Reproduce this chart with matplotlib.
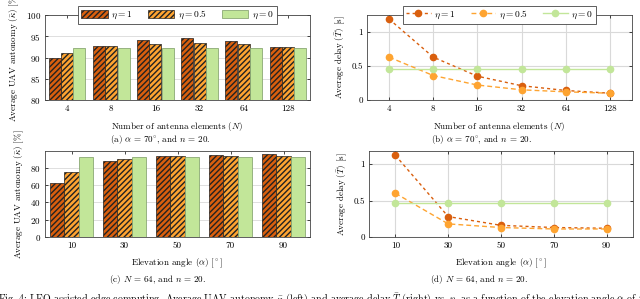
import matplotlib
matplotlib.use("Agg")
import matplotlib.pyplot as plt
import numpy as np

plt.rcParams['font.family'] = 'serif'
plt.rcParams['font.serif'] = ['cmr10']
plt.rcParams['mathtext.fontset'] = 'cm'
plt.rcParams['axes.formatter.use_mathtext'] = True
plt.rcParams['font.size'] = 6.5
plt.rcParams['hatch.linewidth'] = 1.0

# data
n_labels = ['4', '8', '16', '32', '64', '128']
alpha_labels = ['10', '30', '50', '70', '90']

aut_N_eta1 = [90.0, 92.8, 94.2, 94.5, 94.0, 92.5]
aut_N_eta05 = [91.1, 92.6, 93.2, 93.4, 93.1, 92.4]
aut_N_eta0 = [92.2, 92.2, 92.2, 92.2, 92.2, 92.2]

delay_N_eta1 = [1.19, 0.63, 0.35, 0.21, 0.14, 0.10]
delay_N_eta05 = [0.63, 0.36, 0.22, 0.15, 0.12, 0.10]
delay_N_eta0 = [0.46, 0.46, 0.46, 0.46, 0.46, 0.46]

aut_a_eta1 = [62.5, 88.0, 93.0, 94.5, 95.0]
aut_a_eta05 = [75.0, 90.0, 93.0, 93.5, 93.5]
aut_a_eta0 = [92.2, 92.2, 92.2, 92.2, 92.2]

delay_a_eta1 = [1.12, 0.28, 0.16, 0.13, 0.12]
delay_a_eta05 = [0.60, 0.18, 0.13, 0.11, 0.11]
delay_a_eta0 = [0.46, 0.46, 0.46, 0.46, 0.46]

c1 = '#d95f0e'
c05 = '#fea431'
c0 = '#c2e699'
labels = [r'$\eta = 1$', r'$\eta = 0.5$', r'$\eta = 0$']

W, H = 640, 299
fig = plt.figure(figsize=(W / 100, H / 100), dpi=100)


def px_axes(left, right, top, bottom):
    return fig.add_axes([left / W, (H - bottom) / H, (right - left) / W, (bottom - top) / H])


def style(ax):
    ax.tick_params(direction='in', length=2.5, width=0.5, top=True, right=True, pad=3)
    for s in ax.spines.values():
        s.set_linewidth(0.6)
        s.set_color('#444444')
    ax.set_axisbelow(True)


def bars(ax, cats, s1, s05, s0, ylim, yticks, ylabel, xlabel):
    x = np.arange(len(cats))
    w = 0.27
    ax.bar(x - 0.28, s1, w, color=c1, edgecolor='#222222', hatch='//////', linewidth=0.5, label=labels[0])
    ax.bar(x, s05, w, color=c05, edgecolor='#222222', hatch='//////', linewidth=0.5, label=labels[1])
    ax.bar(x + 0.28, s0, w, color=c0, edgecolor='#8aa874', linewidth=0.6, label=labels[2])
    ax.set_xlim(-0.5, len(cats) - 0.5)
    ax.set_ylim(*ylim)
    ax.set_yticks(yticks)
    ax.set_xticks(x)
    ax.set_xticklabels(cats)
    ax.yaxis.grid(True, color='#d9d9d9', linewidth=0.6)
    ax.set_ylabel(ylabel, labelpad=3)
    ax.set_xlabel(xlabel, labelpad=5)
    style(ax)


def lines(ax, cats, s1, s05, s0, ylim, yticks, ylabel, xlabel):
    x = np.arange(len(cats))
    ax.plot(x, s1, color=c1, ls=(0, (2.2, 2.2)), lw=1.0, marker='o', ms=4.5, label=labels[0])
    ax.plot(x, s05, color=c05, ls=(0, (3.5, 2.2)), lw=1.0, marker='o', ms=4.5, label=labels[1])
    ax.plot(x, s0, color=c0, ls='-', lw=1.0, marker='o', ms=4.5, label=labels[2])
    ax.set_xlim(-0.5, len(cats) - 0.5)
    ax.set_ylim(*ylim)
    ax.set_yticks(yticks)
    ax.set_yticklabels([('%g' % v) for v in yticks])
    ax.set_xticks(x)
    ax.set_xticklabels(cats)
    ax.grid(True, color='#d9d9d9', linewidth=0.8)
    ax.set_ylabel(ylabel, labelpad=3)
    ax.set_xlabel(xlabel, labelpad=5)
    style(ax)


def legend(ax, handlelength, colspace):
    leg = ax.legend(loc='center', bbox_to_anchor=(0.5, 1.0), ncol=3, frameon=True,
                    fancybox=False, edgecolor='#444444', framealpha=1, fontsize=6.8,
                    handlelength=handlelength, handleheight=0.9, columnspacing=colspace,
                    borderpad=0.35, handletextpad=0.4)
    leg.get_frame().set_linewidth(0.6)


xl_N = r'Number of antenna elements ($N$)'
xl_a = r'Elevation angle ($\alpha$) [$^\circ$]'
yl_aut = r'Average UAV autonomy ($\bar{\kappa}$) [%]'
yl_del = r'Average delay ($\bar{T}$) [s]'

ax1 = px_axes(45, 310, 15, 100)
bars(ax1, n_labels, aut_N_eta1, aut_N_eta05, aut_N_eta0, (80, 100), [80, 85, 90, 95, 100], yl_aut, xl_N)
legend(ax1, 2.8, 1.6)

ax2 = px_axes(367, 632, 15, 100)
lines(ax2, n_labels, delay_N_eta1, delay_N_eta05, delay_N_eta0, (0, 1.25), [0, 0.5, 1], yl_del, xl_N)
legend(ax2, 2.6, 1.6)

ax3 = px_axes(45, 310, 151, 237)
bars(ax3, alpha_labels, aut_a_eta1, aut_a_eta05, aut_a_eta0, (0, 99), [0, 20, 40, 60, 80], yl_aut, xl_a)

ax4 = px_axes(369, 633, 151, 237)
lines(ax4, alpha_labels, delay_a_eta1, delay_a_eta05, delay_a_eta0, (0, 1.18), [0, 0.5, 1], yl_del, xl_a)

fig.text(160 / W, 1 - 140 / H, r'(a) $\alpha\,=\,70^{\circ}$, and $n\,=\,20$.', ha='center', va='center')
fig.text(481 / W, 1 - 140 / H, r'(b) $\alpha\,=\,70^{\circ}$, and $n\,=\,20$.', ha='center', va='center')
fig.text(158 / W, 1 - 279 / H, r'(c) $N\,=\,64$, and $n\,=\,20$.', ha='center', va='center')
fig.text(479 / W, 1 - 279 / H, r'(d) $N\,=\,64$, and $n\,=\,20$.', ha='center', va='center')
fig.text(-2 / W, 1 - 291 / H,
         r'Fig. 4: LEO-assisted edge computing. Average UAV autonomy $\bar{\kappa}$ (left) and average delay $\bar{T}$ (right) vs. $\eta$, as a function of the elevation angle $\alpha$ of the LEO',
         ha='left', va='top', fontsize=7.2)

fig.savefig('out.png', dpi=100)
